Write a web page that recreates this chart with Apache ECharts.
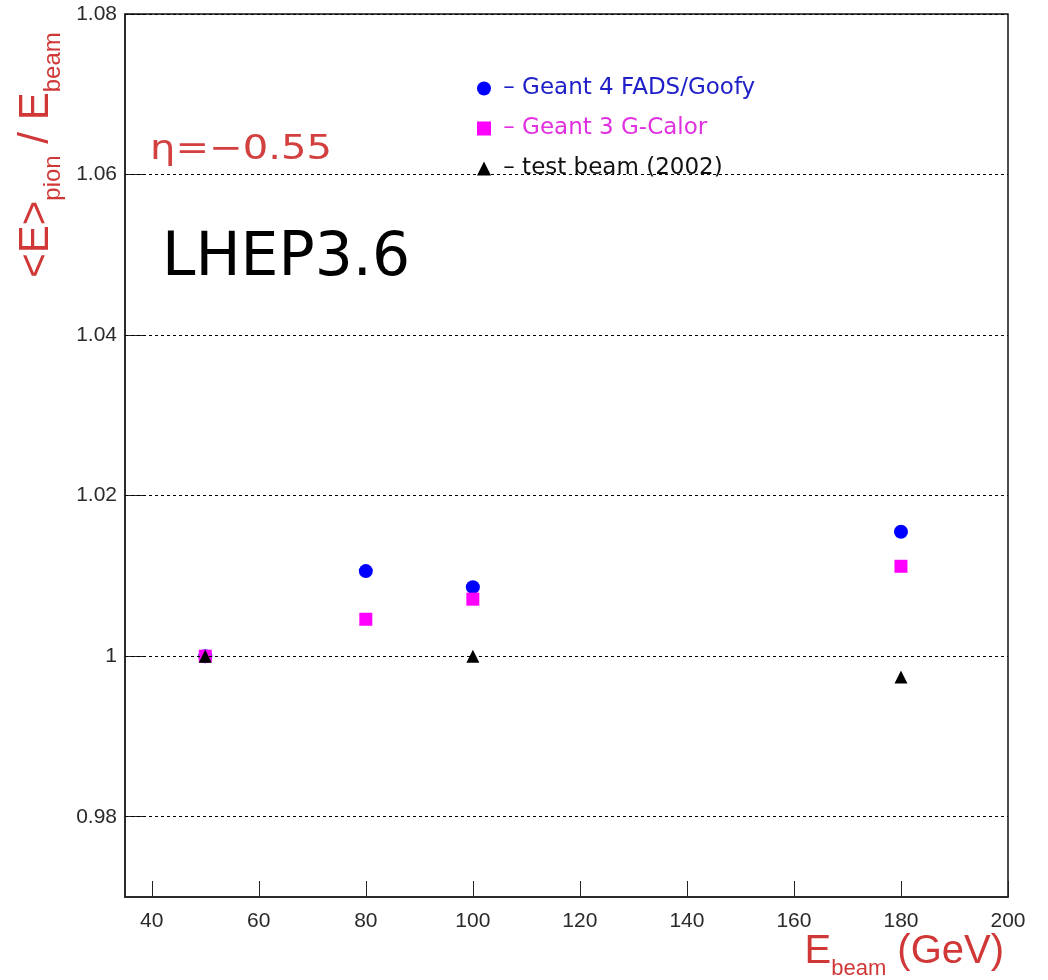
<!DOCTYPE html>
<html>
<head>
<meta charset="utf-8">
<script src="https://cdn.jsdelivr.net/npm/echarts@6/dist/echarts.min.js"></script>
<style>
  html, body { margin: 0; padding: 0; background: #fff; }
  #chart { width: 1048px; height: 980px; }
</style>
</head>
<body>
<div id="chart"></div>
<script>
// beam energies (GeV) and <E>pion / Ebeam
const energies = [50, 80, 100, 180]
const geant4 = [1.0, 1.0106, 1.0086, 1.0155]
const geant3 = [1.0, 1.0046, 1.0071, 1.0112]
const testBeamE = [50, 100, 180]
const testBeam = [1.0, 1.0, 0.9974]

const xTicks = [40, 60, 80, 100, 120, 140, 160, 180, 200]
const yTicks = [0.98, 1.0, 1.02, 1.04, 1.06, 1.08]

const names = ['Geant 4 FADS/Goofy', 'Geant 3 G-Calor', 'test beam (2002)']

const chart = echarts.init(document.getElementById('chart'))

const labelFont = { fontFamily: 'Liberation Sans', fontSize: 21, color: '#2a2a2a' }
const red = '#d03838'

chart.setOption({
  animation: false,
  grid: {
    left: 125, right: 40, top: 14, bottom: 83,
    show: true, borderColor: '#111', borderWidth: 1.5
  },
  xAxis: {
    type: 'value', min: 35, max: 200,
    axisLine: { lineStyle: { color: '#222', width: 1.5 } },
    axisTick: { inside: true, length: 16, customValues: xTicks, lineStyle: { color: '#222' } },
    axisLabel: Object.assign({ customValues: xTicks, margin: 14 }, labelFont),
    splitLine: { show: false }
  },
  yAxis: {
    type: 'value', min: 0.97, max: 1.08,
    axisLine: { show: true, lineStyle: { color: '#222', width: 1.5 } },
    axisTick: { show: true, inside: true, length: 20, customValues: yTicks, lineStyle: { color: '#222' } },
    axisLabel: Object.assign({
      customValues: yTicks, margin: 8,
      formatter: v => (Math.abs(v - 1) < 1e-9 ? '1' : v.toFixed(2))
    }, labelFont),
    splitLine: { show: false }
  },
  legend: {
    orient: 'vertical', left: 472, top: 72,
    itemWidth: 14, itemHeight: 14, itemGap: 17,
    formatter: n => ' \u2013 ' + n,
    textStyle: { fontFamily: 'DejaVu Sans', fontSize: 23 },
    data: [
      { name: names[0], icon: 'circle', textStyle: { color: '#2020c8' } },
      { name: names[1], icon: 'rect', textStyle: { color: '#e030e0' } },
      { name: names[2], icon: 'triangle', textStyle: { color: '#111' } }
    ]
  },
  graphic: [
    {
      type: 'text', x: 150, y: 133, scaleX: 1.18,
      style: { text: '\u03B7=\u22120.55', font: '34px "DejaVu Sans"', fill: '#d24040' }
    },
    {
      type: 'text', left: 162, top: 229,
      style: { text: 'LHEP3.6', font: '60px "DejaVu Sans"', fill: '#000' }
    },
    {
      type: 'text', x: 40, y: 155, rotation: Math.PI / 2,
      style: {
        text: '{b|<E>}{s|pion}{b| / E}{s|beam}',
        align: 'center', verticalAlign: 'middle',
        rich: {
          b: { fontFamily: 'Liberation Sans', fontSize: 42, fill: red, lineHeight: 50, verticalAlign: 'top' },
          s: { fontFamily: 'Liberation Sans', fontSize: 24, fill: red, lineHeight: 24, verticalAlign: 'bottom' }
        }
      }
    },
    {
      type: 'text', right: 44, bottom: 0,
      style: {
        text: '{b|E}{s|beam}{b| (GeV)}',
        rich: {
          b: { fontFamily: 'Liberation Sans', fontSize: 40, fill: red, lineHeight: 48, verticalAlign: 'top' },
          s: { fontFamily: 'Liberation Sans', fontSize: 22, fill: red, lineHeight: 22, verticalAlign: 'bottom' }
        }
      }
    }
  ],
  series: [
    {
      name: names[0], type: 'scatter', symbol: 'circle', symbolSize: 14,
      itemStyle: { color: '#0000ff', opacity: 1 },
      data: energies.map((e, i) => [e, geant4[i]]),
      markLine: {
        silent: true, symbol: 'none', label: { show: false },
        lineStyle: { color: '#000', type: [3, 3], width: 1 },
        data: yTicks.map(v => ({ yAxis: v }))
      }
    },
    {
      name: names[1], type: 'scatter', symbol: 'rect', symbolSize: 13,
      itemStyle: { color: '#ff00ff', opacity: 1 },
      data: energies.map((e, i) => [e, geant3[i]])
    },
    {
      name: names[2], type: 'scatter', symbol: 'triangle', symbolSize: 13,
      itemStyle: { color: '#000', opacity: 1 },
      data: testBeamE.map((e, i) => [e, testBeam[i]])
    }
  ]
})
</script>
</body>
</html>
